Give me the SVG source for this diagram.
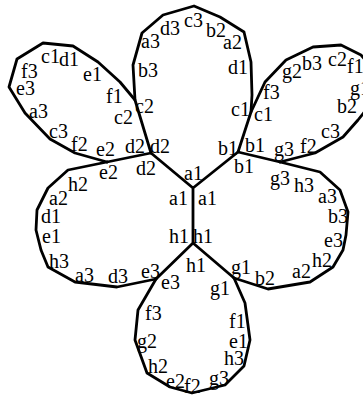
<svg xmlns="http://www.w3.org/2000/svg" width="363" height="396" viewBox="0 0 363 396">
<style>
.e{fill:none;stroke:#000;stroke-width:2.8;stroke-linejoin:round;stroke-linecap:round}
.t{font-family:'Liberation Serif','Times New Roman',Times,serif;font-size:20px;fill:#000}
</style>
<rect width="363" height="396" fill="#fff"/>
<g id="connectors">
<path class="e" d="M151,153 L193,188 L238,152 M193,188 L193,243 L156,279 M193,243 L234,278 M107,162 L151,153 M238,152 L280,162"/>
</g>
<g id="petal-top" class="t">
<path class="e" d="M151,153 L135,100 L133,65 L142,33 L163,15 L194,6 L220,17 L244,32 L251,62 L252,95 L251,112 L238,152"/>
<text x="141" y="48">a3</text><text x="160" y="35">d3</text><text x="184" y="27">c3</text><text x="206" y="37">b2</text><text x="223" y="49">a2</text>
<text x="138" y="77">b3</text><text x="228" y="74">d1</text><text x="135" y="113">c2</text><text x="231" y="116">c1</text>
<text x="150" y="153">d2</text><text x="218" y="155">b1</text><text x="184" y="180">a1</text>
</g>
<g id="petal-topleft" class="t">
<path class="e" d="M135,100 L120,82 L98,62 L73,46 L43,43 L17,59 L9,87 L25,113 L50,139 L75,153 L107,162"/>
<text x="41" y="63">c1</text><text x="59" y="66">d1</text><text x="21" y="78">f3</text><text x="16" y="95">e3</text>
<text x="83" y="81">e1</text><text x="106" y="103">f1</text><text x="29" y="118">a3</text><text x="114" y="124">c2</text>
<text x="49" y="138">c3</text><text x="71" y="151">f2</text><text x="96" y="156">e2</text><text x="125" y="153">d2</text>
</g>
<g id="petal-left" class="t">
<path class="e" d="M107,162 L68,170 L48,188 L37,210 L36,230 L41,250 L48,267 L75,282 L117,287 L156,279"/>
<text x="99" y="179">e2</text><text x="136" y="175">d2</text><text x="68" y="191">h2</text><text x="49" y="205">a2</text>
<text x="41" y="223">d1</text><text x="42" y="243">e1</text><text x="49" y="268">h3</text><text x="75" y="282">a3</text>
<text x="108" y="283">d3</text><text x="141" y="278">e3</text><text x="169" y="205">a1</text><text x="169" y="243">h1</text>
</g>
<g id="petal-bottom" class="t">
<path class="e" d="M156,279 L138,310 L135,340 L147,373 L170,387 L192,393 L225,385 L244,366 L250,340 L245,303 L234,278"/>
<text x="186" y="272">h1</text><text x="161" y="289">e3</text><text x="210" y="295">g1</text><text x="145" y="320">f3</text>
<text x="229" y="328">f1</text><text x="137" y="348">g2</text><text x="229" y="348">e1</text><text x="224" y="365">h3</text>
<text x="148" y="373">h2</text><text x="166" y="388">e2</text><text x="184" y="393">f2</text><text x="209" y="385">g3</text>
</g>
<g id="petal-right" class="t">
<path class="e" d="M234,278 L268,289 L310,282 L333,267 L343,250 L346,235 L348,212 L340,190 L320,172 L280,162"/>
<text x="198" y="205">a1</text><text x="193" y="243">h1</text><text x="234" y="173">b1</text><text x="270" y="185">g3</text>
<text x="294" y="192">h3</text><text x="318" y="203">a3</text><text x="328" y="223">b3</text><text x="324" y="247">e3</text>
<text x="312" y="267">h2</text><text x="292" y="278">a2</text><text x="255" y="285">b2</text><text x="231" y="274">g1</text>
</g>
<g id="petal-topright" class="t">
<path class="e" d="M251,112 L265,82 L286,60 L313,47 L341,45 L361,55 L378,75 L374,100 L358,120 L343,137 L315,153 L280,162"/>
<text x="254" y="121">c1</text><text x="263" y="99">f3</text><text x="282" y="78">g2</text><text x="302" y="70">b3</text>
<text x="328" y="66">c2</text><text x="347" y="73">f1</text><text x="350" y="95">g1</text><text x="337" y="113">b2</text>
<text x="321" y="138">c3</text><text x="300" y="153">f2</text><text x="274" y="156">g3</text><text x="245" y="152">b1</text>
</g>
</svg>
